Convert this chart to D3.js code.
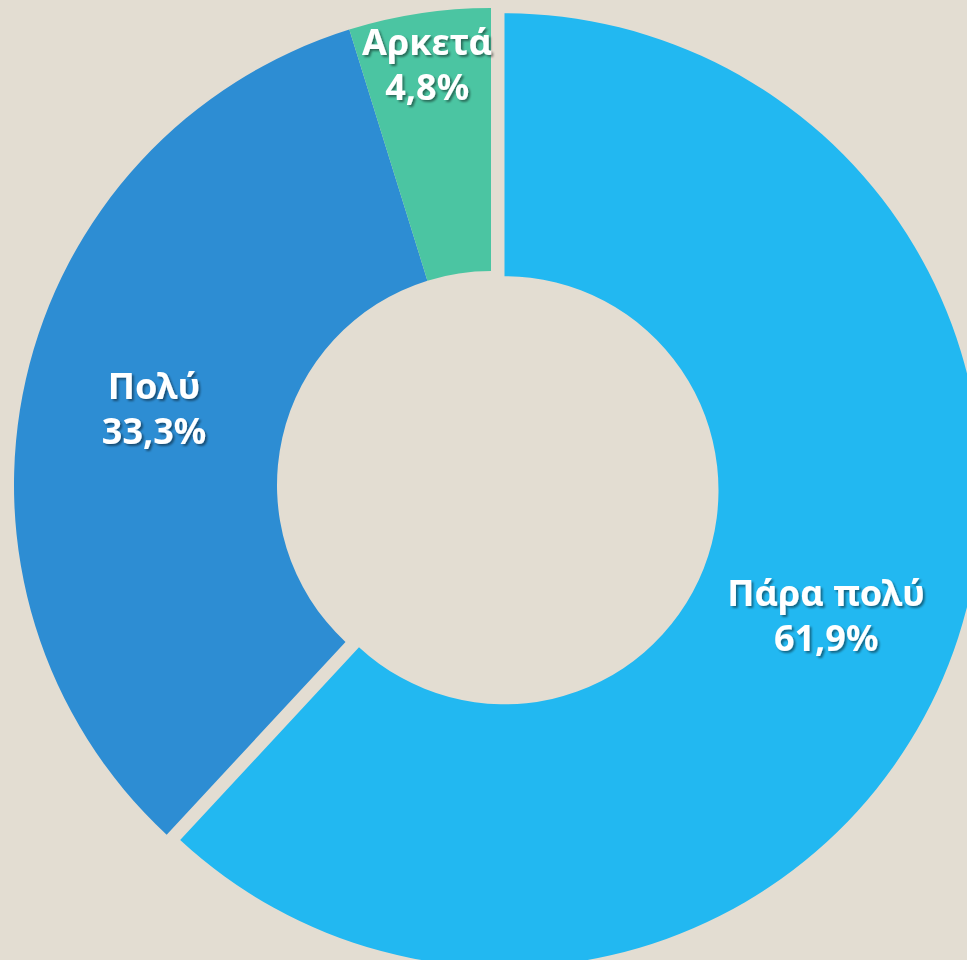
<!DOCTYPE html>
<html>
<head>
<meta charset="utf-8">
<script src="https://cdn.jsdelivr.net/npm/d3@7"></script>
<style>
  html, body { margin: 0; padding: 0; background: #e3ddd2; overflow: hidden; }
  svg { display: block; }
</style>
</head>
<body>
<div id="chart-area"></div>
<script>
// data
const categories = ["Πάρα πολύ", "Πολύ", "Αρκετά"];
const percents = [61.9, 33.3, 4.8];
const colors = ["#22b8f1", "#2d8dd3", "#4bc5a2"];

let width = 967, height = 960;
let cx = 491, cy = 485;
let innerR = 214, outerR = 477;
let explode = 14.5;

const data = categories.map((c, i) => {
    return { name: c, value: percents[i], color: colors[i] };
});

const svg = d3.select("#chart-area").append("svg")
    .attr("width", width)
    .attr("height", height)

svg.append("rect")
    .attr("width", width)
    .attr("height", height)
    .attr("fill", "#e3ddd2")

const defs = svg.append("defs")
defs.append("filter")
    .attr("id", "shadow")
    .attr("x", "-20%").attr("y", "-20%")
    .attr("width", "140%").attr("height", "140%")
  .append("feDropShadow")
    .attr("dx", 2)
    .attr("dy", 2)
    .attr("stdDeviation", 1.2)
    .attr("flood-color", "#000")
    .attr("flood-opacity", 0.45)

const pie = d3.pie()
    .sort(null)
    .value(d => d.value)

const arc = d3.arc()
    .innerRadius(innerR)
    .outerRadius(outerR)

const arcs = pie(data);

const g = svg.append("g")
    .attr("transform", `translate(${cx}, ${cy})`)

// first slice pulled out
function offset(d, i) {
    if (i != 0) return [0, 0];
    let a = (d.startAngle + d.endAngle) / 2;
    return [Math.sin(a) * explode, -Math.cos(a) * explode];
}

g.selectAll("path")
    .data(arcs)
    .enter()
    .append("path")
    .attr("d", arc)
    .attr("fill", d => d.data.color)
    .attr("transform", (d, i) => {
        let o = offset(d, i);
        return `translate(${o[0]}, ${o[1]})`;
    })

// labels
const labels = g.selectAll("text")
    .data(arcs)
    .enter()
    .append("text")
    .attr("text-anchor", "middle")
    .attr("font-family", "'Noto Sans', sans-serif")
    .attr("font-weight", "bold")
    .attr("font-size", "36px")
    .attr("fill", "#ffffff")
    .attr("filter", "url(#shadow)")
    .attr("transform", (d, i) => {
        let o = offset(d, i);
        let a = (d.startAngle + d.endAngle) / 2;
        // small slice: label sits nearer the outer edge
        let r = (d.endAngle - d.startAngle) < 0.5 ? 425 : (innerR + outerR) / 2;
        return `translate(${Math.sin(a) * r + o[0]}, ${-Math.cos(a) * r + o[1]})`;
    })

labels.append("tspan")
    .attr("x", 0)
    .attr("y", -10)
    .text(d => d.data.name)

labels.append("tspan")
    .attr("x", 0)
    .attr("y", 35)
    .text(d => d.data.value.toFixed(1).replace(".", ",") + "%")
</script>
</body>
</html>
